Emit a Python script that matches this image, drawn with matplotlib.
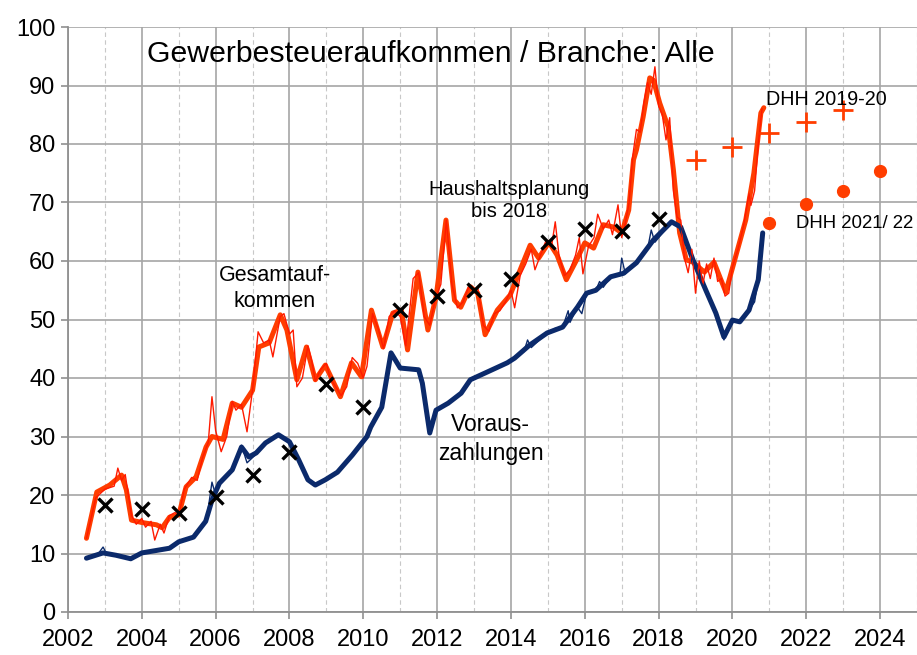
import matplotlib
matplotlib.use("Agg")
import matplotlib.pyplot as plt

plt.rcParams['font.family'] = ['Liberation Sans', 'DejaVu Sans']

# ---- data ----
# Gesamtaufkommen (smoothed, thick)
red_t = [2002.5, 2002.78, 2003.13, 2003.45, 2003.58, 2003.72, 2004.0, 2004.4, 2004.55, 2004.75,
         2005.0, 2005.2, 2005.47, 2005.74, 2005.9, 2006.2, 2006.45, 2006.7, 2007.0, 2007.17,
         2007.45, 2007.75, 2007.93, 2008.2, 2008.46, 2008.7, 2008.97, 2009.38, 2009.68, 2009.95,
         2010.22, 2010.53, 2010.8, 2011.03, 2011.2, 2011.48, 2011.75, 2011.97, 2012.24, 2012.47,
         2012.64, 2012.9, 2013.1, 2013.3, 2013.63, 2013.98, 2014.25, 2014.52, 2014.75, 2015.03,
         2015.25, 2015.5, 2015.78, 2016.0, 2016.24, 2016.5, 2016.78, 2017.0, 2017.19, 2017.32,
         2017.4, 2017.58, 2017.76, 2017.86, 2018.03, 2018.26, 2018.4, 2018.57, 2018.75, 2018.93,
         2019.24, 2019.5, 2019.82, 2020.04, 2020.36, 2020.58, 2020.77, 2020.85]
red_v = [12.6, 20.5, 21.7, 23.4, 20.9, 15.7, 15.3, 14.9, 14.4, 16.2,
         16.6, 21.4, 23.1, 28.2, 30.0, 29.5, 35.7, 35.0, 37.9, 45.3,
         46.0, 50.8, 48.2, 39.7, 45.3, 39.7, 42.2, 36.8, 42.6, 40.2,
         51.6, 45.3, 51.1, 51.6, 44.8, 58.1, 48.2, 53.8, 67.0, 53.3,
         52.1, 55.6, 54.5, 47.4, 51.6, 54.2, 58.5, 62.7, 60.5, 63.2,
         61.0, 56.8, 60.2, 63.1, 62.2, 66.2, 65.8, 64.8, 68.7, 77.3,
         79.0, 84.6, 91.3, 90.9, 87.0, 82.9, 75.6, 64.8, 60.2, 59.8,
         58.1, 59.8, 54.7, 59.7, 67.0, 75.0, 85.3, 86.2]

# Gesamtaufkommen raw (thin)
red_raw_t = [2002.5, 2002.75, 2003.0, 2003.25, 2003.35, 2003.45, 2003.55, 2003.72, 2003.85, 2004.0,
             2004.1, 2004.25, 2004.35, 2004.5, 2004.6, 2004.75, 2004.9, 2005.0, 2005.15, 2005.35,
             2005.5, 2005.65, 2005.8, 2005.9, 2006.0, 2006.15, 2006.3, 2006.45, 2006.55, 2006.7,
             2006.85, 2007.0, 2007.15, 2007.3, 2007.45, 2007.55, 2007.75, 2007.85, 2008.0, 2008.1,
             2008.2, 2008.35, 2008.5, 2008.6, 2008.7, 2008.85, 2009.0, 2009.1, 2009.25, 2009.4,
             2009.55, 2009.7, 2009.85, 2010.0, 2010.1, 2010.25, 2010.4, 2010.55, 2010.7, 2010.85,
             2011.0, 2011.15, 2011.35, 2011.5, 2011.65, 2011.8, 2011.95, 2012.1, 2012.25, 2012.4,
             2012.55, 2012.7, 2012.85, 2013.0, 2013.1, 2013.25, 2013.4, 2013.55, 2013.7, 2013.85,
             2014.0, 2014.1, 2014.25, 2014.4, 2014.55, 2014.65, 2014.8, 2014.95, 2015.1, 2015.2,
             2015.3, 2015.45, 2015.6, 2015.75, 2015.85, 2015.95, 2016.1, 2016.25, 2016.35, 2016.5,
             2016.65, 2016.75, 2016.9, 2017.0, 2017.1, 2017.2, 2017.3, 2017.4, 2017.5, 2017.6,
             2017.7, 2017.8, 2017.9, 2018.0, 2018.1, 2018.2, 2018.3, 2018.4, 2018.5, 2018.6,
             2018.7, 2018.8, 2018.9, 2019.0, 2019.1, 2019.2, 2019.3, 2019.4, 2019.5, 2019.6,
             2019.7, 2019.8, 2019.9, 2020.0, 2020.15, 2020.3, 2020.45, 2020.5, 2020.6, 2020.7,
             2020.8]
red_raw_v = [12.6, 19.5, 21.0, 21.5, 24.6, 22.5, 23.5, 16.5, 15.0, 16.0,
             14.5, 15.5, 12.3, 15.0, 13.5, 16.5, 17.0, 16.5, 21.0, 23.0,
             22.5, 26.5, 29.0, 36.8, 31.0, 27.4, 30.0, 36.0, 34.5, 35.5,
             30.8, 38.0, 47.9, 46.0, 46.5, 43.6, 50.5, 51.0, 47.5, 48.2,
             38.5, 40.0, 45.5, 43.0, 39.5, 41.5, 42.5, 40.0, 38.5, 37.0,
             38.5, 43.5, 42.5, 40.0, 42.0, 51.0, 48.5, 45.0, 50.5, 51.5,
             50.5, 45.5, 57.0, 58.0, 50.5, 49.0, 53.5, 56.0, 67.0, 56.0,
             52.0, 53.0, 55.5, 55.0, 55.5, 49.0, 48.0, 51.0, 51.5, 53.0,
             55.0, 52.0, 57.5, 59.5, 62.0, 58.5, 61.0, 63.5, 62.5, 66.7,
             61.0, 57.5, 58.5, 61.0, 64.0, 57.8, 62.5, 64.0, 68.0, 65.5,
             67.0, 64.5, 69.6, 64.0, 66.5, 70.0, 78.0, 82.5, 82.0, 87.0,
             90.5, 88.5, 93.2, 86.5, 85.0, 80.7, 84.5, 72.0, 67.5, 67.0,
             60.5, 58.0, 62.0, 54.5, 60.0, 56.0, 59.5, 57.0, 60.5, 56.5,
             57.0, 54.0, 54.5, 59.0, 62.0, 66.0, 71.5, 69.5, 72.0, 80.0,
             86.0]

# Vorauszahlungen (smoothed, thick)
blue_t = [2002.5, 2002.75, 2002.95, 2003.3, 2003.7, 2004.0, 2004.75, 2005.0, 2005.4, 2005.73,
          2005.9, 2006.1, 2006.45, 2006.7, 2006.9, 2007.1, 2007.35, 2007.7, 2008.0, 2008.25,
          2008.5, 2008.7, 2008.97, 2009.3, 2009.7, 2010.1, 2010.2, 2010.5, 2010.75, 2011.0,
          2011.5, 2011.6, 2011.8, 2011.97, 2012.3, 2012.65, 2012.9, 2013.35, 2013.9, 2014.1,
          2014.5, 2014.98, 2015.4, 2015.8, 2016.05, 2016.3, 2016.7, 2017.05, 2017.4, 2017.86,
          2018.35, 2018.6, 2018.93, 2019.28, 2019.55, 2019.77, 2020.0, 2020.2, 2020.45, 2020.7,
          2020.82]
blue_v = [9.2, 9.7, 10.1, 9.7, 9.1, 10.1, 10.9, 12.0, 12.8, 15.5,
          19.1, 22.0, 24.3, 28.2, 26.5, 27.2, 28.9, 30.3, 29.1, 26.0,
          22.6, 21.7, 22.6, 23.9, 26.8, 30.0, 31.6, 35.0, 44.3, 41.7,
          41.4, 39.1, 30.6, 34.5, 35.7, 37.4, 39.7, 41.0, 42.6, 43.4,
          45.6, 47.7, 48.7, 52.1, 54.5, 55.0, 57.3, 57.9, 59.7, 63.6,
          66.7, 65.8, 60.2, 55.0, 51.1, 47.0, 49.9, 49.6, 51.6, 56.8,
          64.8]

# Vorauszahlungen raw (thin)
blue_raw_t = [2002.5, 2002.8, 2002.95, 2003.05, 2003.3, 2003.7, 2004.0, 2004.75, 2005.0, 2005.4,
              2005.75, 2005.9, 2006.0, 2006.1, 2006.45, 2006.7, 2006.85, 2007.1, 2007.35, 2007.7,
              2008.0, 2008.25, 2008.5, 2008.7, 2008.97, 2009.3, 2009.7, 2010.1, 2010.2, 2010.5,
              2010.75, 2011.0, 2011.5, 2011.6, 2011.8, 2011.97, 2012.3, 2012.65, 2012.9, 2013.35,
              2013.9, 2014.1, 2014.35, 2014.45, 2014.55, 2014.98, 2015.2, 2015.4, 2015.55, 2015.6,
              2015.8, 2015.92, 2016.05, 2016.3, 2016.4, 2016.5, 2016.7, 2016.95, 2017.0, 2017.1,
              2017.4, 2017.7, 2017.8, 2017.9, 2018.35, 2018.6, 2018.93, 2019.1, 2019.28, 2019.55,
              2019.7, 2019.77, 2019.85, 2020.0, 2020.2, 2020.45, 2020.6, 2020.7, 2020.82]
blue_raw_v = [9.2, 9.8, 11.1, 9.9, 9.8, 9.1, 10.1, 10.9, 12.0, 12.8,
              15.5, 22.2, 20.0, 22.0, 24.5, 28.5, 25.5, 27.0, 29.0, 30.3,
              29.1, 26.0, 22.6, 21.7, 22.6, 23.9, 26.8, 30.0, 31.6, 35.0,
              44.3, 41.7, 41.4, 39.1, 30.6, 34.5, 35.7, 37.4, 39.7, 41.0,
              42.6, 43.4, 44.5, 46.5, 45.2, 47.7, 48.5, 48.7, 51.5, 49.5,
              52.1, 51.0, 54.5, 55.0, 56.5, 55.5, 57.3, 57.5, 60.5, 57.8,
              59.7, 62.0, 65.3, 63.2, 66.7, 65.8, 60.2, 57.0, 55.0, 51.1,
              48.0, 46.5, 48.5, 49.9, 49.6, 51.6, 53.0, 56.8, 64.8]

# Haushaltsplanung bis 2018
plan_years = [2003, 2004, 2005, 2006, 2007, 2008, 2009, 2010, 2011, 2012,
              2013, 2014, 2015, 2016, 2017, 2018]
plan_values = [18.3, 17.6, 16.9, 19.7, 23.4, 27.4, 39.0, 35.0, 51.6, 54.0,
               55.0, 56.9, 63.2, 65.5, 65.1, 67.2]

# DHH 2019-20
dhh1920_years = [2019, 2020, 2021, 2022, 2023]
dhh1920_values = [77.3, 79.5, 81.9, 83.8, 85.8]

# DHH 2021/22
dhh2122_years = [2021, 2022, 2023, 2024]
dhh2122_values = [66.5, 69.7, 72.0, 75.4]

x_ticks = [2002, 2004, 2006, 2008, 2010, 2012, 2014, 2016, 2018, 2020, 2022, 2024]
y_ticks = [0, 10, 20, 30, 40, 50, 60, 70, 80, 90, 100]

# ---- figure ----
RED = '#FF3D00'
THIN_RED = '#FF1A00'
NAVY = '#0B2A6B'

fig = plt.figure(figsize=(9.17, 6.55), dpi=100)
ax = fig.add_axes([68 / 917, 43 / 655, 1 - 68 / 917, (612 - 27) / 655])
ax.set_xlim(2002, 2002 + (917 - 68) / 37.14)
ax.set_ylim(0, 100)

ax.set_xticks(x_ticks)
ax.set_xticks([y + 1 for y in x_ticks], minor=True)
ax.set_yticks(y_ticks)
ax.grid(True, which='major', color='#A6A6A6', lw=1.2, ls='-', zorder=0)
ax.grid(True, which='minor', axis='x', color='#C8C8C8', lw=0.8, ls=(0, (4, 3)), zorder=0)
ax.tick_params(axis='both', which='major', labelsize=17, color='#909090', length=5, width=1.2)
ax.tick_params(axis='x', which='minor', length=0)
ax.tick_params(axis='x', pad=7)
ax.tick_params(axis='y', pad=4)
for s in ['top', 'right']:
    ax.spines[s].set_visible(False)
for s in ['left', 'bottom']:
    ax.spines[s].set_color('#909090')
    ax.spines[s].set_linewidth(1.3)

ax.plot(red_t, red_v, color=RED, lw=3.6, solid_joinstyle='round', solid_capstyle='round', zorder=3)
ax.plot(blue_t, blue_v, color=NAVY, lw=3.6, solid_joinstyle='round', solid_capstyle='round', zorder=3)
ax.plot(red_raw_t, red_raw_v, color=THIN_RED, lw=1.0, zorder=4)
ax.plot(blue_raw_t, blue_raw_v, color=NAVY, lw=1.0, zorder=4)

ax.plot(plan_years, plan_values, ls='none', marker='x', ms=10, mew=2.4, color='black', zorder=5)
ax.plot(dhh1920_years, dhh1920_values, ls='none', marker='+', ms=15, mew=2.0, color=RED, zorder=5)
ax.plot(dhh2122_years, dhh2122_values, ls='none', marker='o', ms=8.5, color=RED, mec=RED, zorder=5)

ax.text(2004.15, 95.4, 'Gewerbesteueraufkommen / Branche: Alle', fontsize=21.8, ha='left', va='center', zorder=6)
ax.text(2007.6, 55.3, 'Gesamtauf-\nkommen', fontsize=15.5, ha='center', va='center', linespacing=1.35, zorder=6)
ax.text(2013.95, 70.3, 'Haushaltsplanung\nbis 2018', fontsize=14.5, ha='center', va='center', linespacing=1.2, zorder=6)
ax.text(2013.45, 29.6, 'Voraus-\nzahlungen', fontsize=16.5, ha='center', va='center', linespacing=1.3, zorder=6)
ax.text(2020.9, 87.6, 'DHH 2019-20', fontsize=14.2, ha='left', va='center', zorder=6)
ax.text(2021.72, 66.4, 'DHH 2021/ 22', fontsize=13.4, ha='left', va='center', zorder=6, clip_on=False)

fig.savefig('out.png', dpi=100)
